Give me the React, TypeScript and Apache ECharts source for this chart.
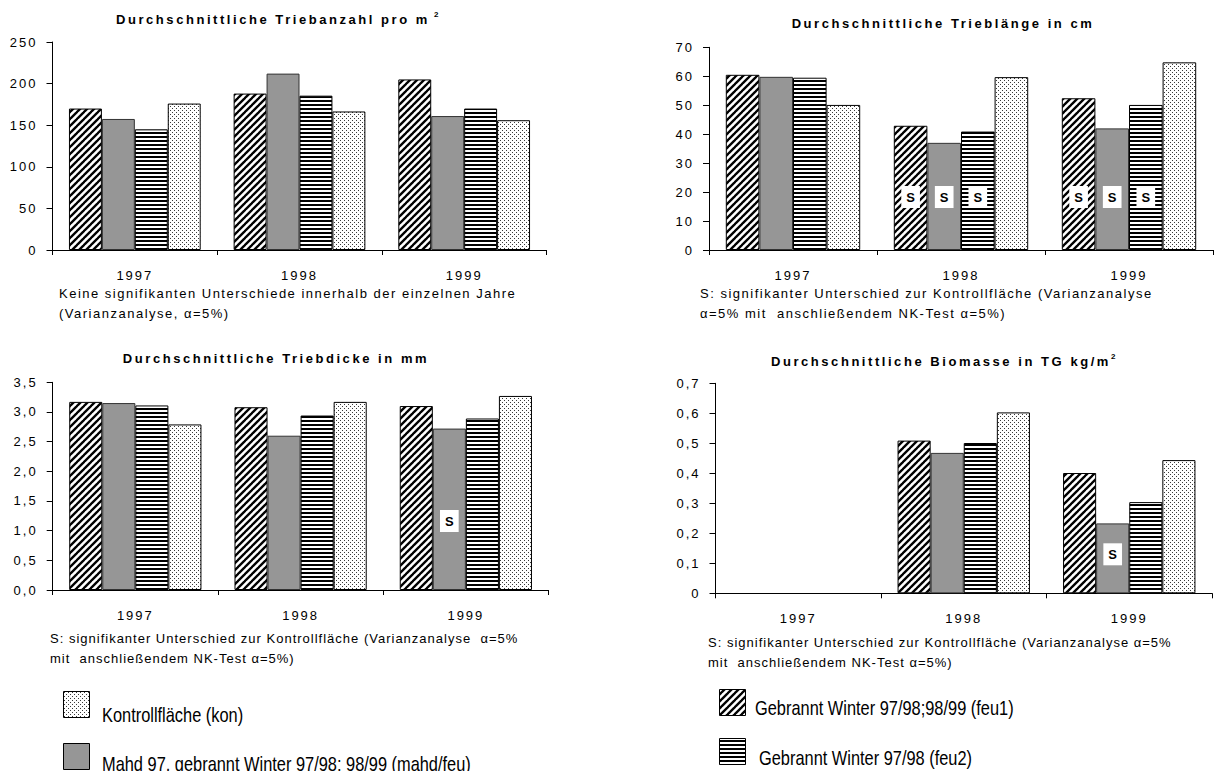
import React, { useEffect, useRef } from 'react';
import * as echarts from 'echarts';

// ---------- data ----------
const YEARS = ['1997', '1998', '1999'];

const NAME_FEU1 = 'Gebrannt Winter 97/98;98/99 (feu1)';
const NAME_MAHD = 'Mahd 97, gebrannt Winter 97/98; 98/99 (mahd/feu)';
const NAME_FEU2 = 'Gebrannt Winter 97/98 (feu2)';
const NAME_KON = 'Kontrollfläche (kon)';

// Triebanzahl pro m²
const anzahlFeu1 = [170, 188, 205];
const anzahlMahd = [157.5, 212, 161];
const anzahlFeu2 = [145, 185.5, 170];
const anzahlKon = [176, 166.5, 156];

// Trieblänge in cm
const laengeFeu1 = [60.5, 42.9, 52.4];
const laengeMahd = [59.8, 37, 42];
const laengeFeu2 = [59.5, 40.9, 50.1];
const laengeKon = [50.1, 59.7, 64.8];
const laengeSigFeu1 = [false, true, true];
const laengeSigMahd = [false, true, true];
const laengeSigFeu2 = [false, true, true];

// Triebdicke in mm
const dickeFeu1 = [3.17, 3.08, 3.1];
const dickeMahd = [3.15, 2.6, 2.72];
const dickeFeu2 = [3.11, 2.94, 2.89];
const dickeKon = [2.79, 3.17, 3.27];
const dickeSigMahd = [false, false, true];

// Biomasse in TG kg/m²
const bioFeu1 = [null, 0.509, 0.401];
const bioMahd = [null, 0.468, 0.233];
const bioFeu2 = [null, 0.501, 0.304];
const bioKon = [null, 0.603, 0.444];
const bioSigMahd = [false, false, true];

const NONE = [false, false, false];

const TITLE_1 = 'Durchschnittliche Triebanzahl pro m';
const TITLE_2 = 'Durchschnittliche Trieblänge in cm';
const TITLE_3 = 'Durchschnittliche Triebdicke in mm';
const TITLE_4 = 'Durchschnittliche Biomasse in TG kg/m';
const SUP = '2';

const NOTE_1 = ['Keine signifikanten Unterschiede innerhalb der einzelnen Jahre', '(Varianzanalyse, α=5%)'];
const NOTE_2 = ['S: signifikanter Unterschied zur Kontrollfläche (Varianzanalyse', 'α=5% mit  anschließendem NK-Test α=5%)'];
const NOTE_3 = ['S: signifikanter Unterschied zur Kontrollfläche (Varianzanalyse  α=5%', 'mit  anschließendem NK-Test α=5%)'];
const NOTE_4 = ['S: signifikanter Unterschied zur Kontrollfläche (Varianzanalyse α=5%', 'mit  anschließendem NK-Test α=5%)'];

// ---------- styling ----------
const TITLE_LS = 2.55;
const F_TITLE = "'Liberation Sans', TitleSp";
const F_NOTE = "'Liberation Sans', NoteSp";
const F_NOTE_TIGHT = "'Liberation Sans', NoteTight";
const F_AXIS = "'Liberation Sans', AxisSp";
const F_LEG = "'Liberation Sans', Arial";
const F_PLAIN = "'Liberation Sans', Arial";

function makeCanvas(w: number, h: number) {
  const c = document.createElement('canvas');
  c.width = w;
  c.height = h;
  return c;
}

function makePatterns() {
  const P = 7;
  const S = 4;
  const d = makeCanvas(P * S, P * S);
  const dc = d.getContext('2d')!;
  dc.fillStyle = '#fff';
  dc.fillRect(0, 0, P * S, P * S);
  dc.strokeStyle = '#000';
  dc.lineWidth = 2.4 * S;
  for (const o of [-P * S, 0, P * S]) {
    dc.beginPath();
    dc.moveTo(o - 2, P * S + 2);
    dc.lineTo(o + P * S + 2, -2);
    dc.stroke();
  }
  const h = makeCanvas(4, 4);
  const hc = h.getContext('2d')!;
  hc.fillStyle = '#fff';
  hc.fillRect(0, 0, 4, 4);
  hc.fillStyle = '#000';
  hc.fillRect(0, 0, 4, 2);
  const k = makeCanvas(4, 4);
  const kc = k.getContext('2d')!;
  kc.fillStyle = '#fff';
  kc.fillRect(0, 0, 4, 4);
  kc.fillStyle = '#3a3a3a';
  kc.fillRect(0, 0, 1, 1);
  kc.fillRect(2, 2, 1, 1);
  return {
    feu1: { image: d.toDataURL(), repeat: 'repeat', imageWidth: P, imageHeight: P },
    feu2: { image: h.toDataURL(), repeat: 'repeat', imageWidth: 4, imageHeight: 4 },
    kon: { image: k.toDataURL(), repeat: 'repeat', imageWidth: 4, imageHeight: 4 },
    mahd: '#969696',
  };
}

function measure(text: string, font: string, ls: number) {
  const c = makeCanvas(10, 10).getContext('2d')!;
  c.font = font;
  return c.measureText(text).width + ls * text.length;
}

const GRIDS = [
  { left: 52.5, top: 42, width: 494, height: 208 },
  { left: 709, top: 47.3, width: 504, height: 202.7 },
  { left: 52.7, top: 382.3, width: 495.8, height: 207.7 },
  { left: 715.5, top: 383.3, width: 496.5, height: 210 },
];

const Y_AXES = [
  { min: 0, max: 250, interval: 50, fmt: (v: number) => String(v) },
  { min: 0, max: 70, interval: 10, fmt: (v: number) => String(v) },
  { min: 0, max: 3.5, interval: 0.5, fmt: (v: number) => v.toFixed(1).replace('.', ',') },
  { min: 0, max: 0.7, interval: 0.1, fmt: (v: number) => (v === 0 ? '0' : v.toFixed(1).replace('.', ',')) },
];

function sLabel(distance: number) {
  return {
    show: true,
    position: 'insideBottom',
    distance,
    formatter: 'S',
    backgroundColor: '#fff',
    padding: [5, 5, 4, 5],
    color: '#000',
    fontWeight: 'bold',
    fontSize: 13,
    lineHeight: 13,
    fontFamily: F_PLAIN,
  };
}

function withSig(values: (number | null)[], sig: boolean[], distance: number) {
  return values.map((v, i) => (sig[i] ? { value: v, label: sLabel(distance) } : v));
}

export default function App() {
  const ref = useRef<HTMLDivElement>(null);

  useEffect(() => {
    if (!ref.current) return;
    const pat = makePatterns();
    const chart = echarts.init(ref.current, null, { renderer: 'svg' });

    const charts = [
      { feu1: anzahlFeu1, mahd: anzahlMahd, feu2: anzahlFeu2, kon: anzahlKon, s1: NONE, s2: NONE, s3: NONE, dist: 40 },
      { feu1: laengeFeu1, mahd: laengeMahd, feu2: laengeFeu2, kon: laengeKon, s1: laengeSigFeu1, s2: laengeSigMahd, s3: laengeSigFeu2, dist: 42 },
      { feu1: dickeFeu1, mahd: dickeMahd, feu2: dickeFeu2, kon: dickeKon, s1: NONE, s2: dickeSigMahd, s3: NONE, dist: 58 },
      { feu1: bioFeu1, mahd: bioMahd, feu2: bioFeu2, kon: bioKon, s1: NONE, s2: bioSigMahd, s3: NONE, dist: 28 },
    ];

    const styles: Record<string, any> = {
      feu1: { color: pat.feu1, borderColor: '#000', borderWidth: 1 },
      mahd: { color: pat.mahd, borderColor: '#333', borderWidth: 1 },
      feu2: { color: pat.feu2, borderColor: '#000', borderWidth: 1 },
      kon: { color: pat.kon, borderColor: '#000', borderWidth: 1 },
    };

    const series: any[] = [];
    charts.forEach((c, i) => {
      const base = {
        type: 'bar',
        xAxisIndex: i,
        yAxisIndex: i,
        barGap: '0%',
        barCategoryGap: '20%',
      };
      series.push({ ...base, name: NAME_FEU1, data: withSig(c.feu1, c.s1, c.dist), itemStyle: styles.feu1 });
      series.push({ ...base, name: NAME_MAHD, data: withSig(c.mahd, c.s2, c.dist), itemStyle: styles.mahd });
      series.push({ ...base, name: NAME_FEU2, data: withSig(c.feu2, c.s3, c.dist), itemStyle: styles.feu2 });
      series.push({ ...base, name: NAME_KON, data: c.kon, itemStyle: styles.kon });
    });

    const titleFontCss = "bold 13px 'Liberation Sans'";
    const title = (text: string, cx: number, y: number, sup: string | null, supGap: number) => {
      const els: any[] = [
        {
          type: 'text',
          x: cx,
          y,
          silent: true,
          style: {
            text,
            fill: '#000',
            fontSize: 13,
            fontWeight: 'bold',
            fontFamily: F_TITLE,
            align: 'center',
            verticalAlign: 'middle',
            textAlign: 'center',
            textVerticalAlign: 'middle',
          },
        },
      ];
      if (sup) {
        const w = measure(text, titleFontCss, TITLE_LS);
        els.push({
          type: 'text',
          x: cx + w / 2 + supGap,
          y: y - 5,
          silent: true,
          style: {
            text: sup,
            fill: '#000',
            fontSize: 8,
            fontWeight: 'bold',
            fontFamily: F_PLAIN,
            align: 'left',
            verticalAlign: 'middle',
            textAlign: 'left',
            textVerticalAlign: 'middle',
          },
        });
      }
      return els;
    };

    const noteText = (text: string, x: number, y: number, fam: string) => ({
      type: 'text',
      x,
      y,
      silent: true,
      style: {
        text,
        fill: '#000',
        fontSize: 13,
        fontFamily: fam,
        align: 'left',
        verticalAlign: 'middle',
        textAlign: 'left',
        textVerticalAlign: 'middle',
      },
    });

    // legend drawn as swatch + condensed text
    const legendItem = (key: string, name: string, bx: number, by: number, tx: number, ty: number) => {
      const st = styles[key];
      return [
        {
          type: 'rect',
          silent: true,
          shape: { x: bx + 0.5, y: by + 0.5, width: 26, height: 26 },
          style: { fill: st.color, stroke: '#000', lineWidth: 1 },
        },
        {
          type: 'text',
          x: tx,
          y: ty,
          scaleX: 0.82,
          silent: true,
          style: {
            text: name,
            fill: '#000',
            fontSize: 20,
            fontFamily: F_LEG,
            align: 'left',
            verticalAlign: 'middle',
            textAlign: 'left',
            textVerticalAlign: 'middle',
          },
        },
      ];
    };

    chart.setOption({
      animation: false,
      backgroundColor: '#fff',
      grid: GRIDS.map((g) => ({ ...g, containLabel: false })),
      xAxis: GRIDS.map((_, i) => ({
        type: 'category',
        gridIndex: i,
        data: YEARS,
        axisLine: { show: true, lineStyle: { color: '#000', width: 1 } },
        axisTick: { show: true, length: 5, lineStyle: { color: '#000', width: 1 } },
        axisLabel: { color: '#000', fontSize: 13, fontFamily: F_AXIS, margin: 19 },
        splitLine: { show: false },
      })),
      yAxis: Y_AXES.map((a, i) => ({
        type: 'value',
        gridIndex: i,
        min: a.min,
        max: a.max,
        interval: a.interval,
        axisLine: { show: true, lineStyle: { color: '#000', width: 1 } },
        axisTick: { show: true, length: 6, lineStyle: { color: '#000', width: 1 } },
        axisLabel: { color: '#000', fontSize: 13, fontFamily: F_AXIS, margin: 15, formatter: a.fmt },
        splitLine: { show: false },
      })),
      graphic: [
        ...title(TITLE_1, 273, 19, SUP, 4),
        ...title(TITLE_2, 943, 23, null, 0),
        ...title(TITLE_3, 276, 358, null, 0),
        ...title(TITLE_4, 941, 361, SUP, 0),
        noteText(NOTE_1[0], 59, 293, F_NOTE),
        noteText(NOTE_1[1], 59, 313, F_NOTE),
        noteText(NOTE_2[0], 700, 293, F_NOTE),
        noteText(NOTE_2[1], 700, 313, F_NOTE),
        noteText(NOTE_3[0], 50, 638, F_NOTE_TIGHT),
        noteText(NOTE_3[1], 50, 658, F_NOTE_TIGHT),
        noteText(NOTE_4[0], 708, 642, F_NOTE_TIGHT),
        noteText(NOTE_4[1], 708, 662, F_NOTE_TIGHT),
        ...legendItem('kon', NAME_KON, 63, 691, 102, 715),
        ...legendItem('mahd', NAME_MAHD, 63, 743, 102, 764),
        ...legendItem('feu1', NAME_FEU1, 719, 689, 755, 708),
        ...legendItem('feu2', NAME_FEU2, 719, 738, 759, 758),
      ],
      series,
    });

    return () => chart.dispose();
  }, []);

  return (
    <>
      <style>{`
        .chart text[style*="TitleSp"] { letter-spacing: ${TITLE_LS}px; }
        .chart text[style*="NoteSp"] { letter-spacing: 1.5px; }
        .chart text[style*="NoteTight"] { letter-spacing: 1px; }
        .chart text[style*="AxisSp"] { letter-spacing: 2px; }
      `}</style>
      <div
        ref={ref}
        className="chart"
        style={{ position: 'fixed', left: 0, top: 0, width: 1214, height: 771, background: '#fff' }}
      />
    </>
  );
}
